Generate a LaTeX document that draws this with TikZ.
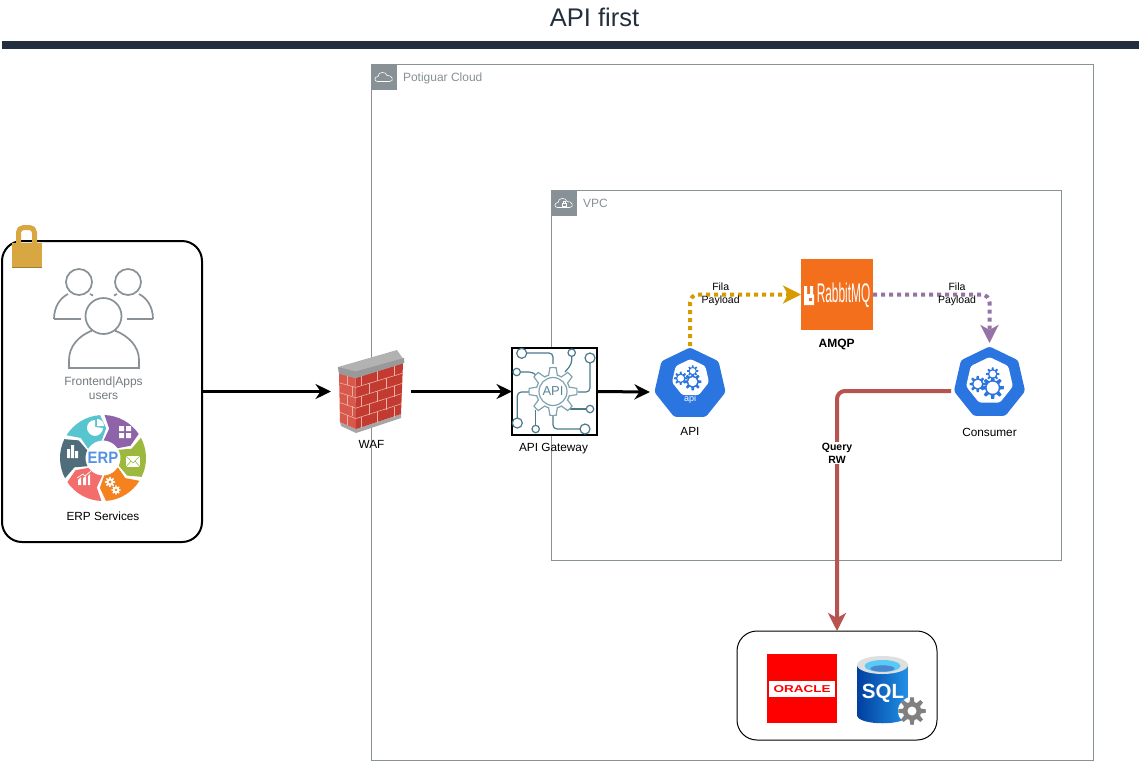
\documentclass[tikz,border=0pt]{standalone}
\usepackage{fontspec}
\setmainfont{Liberation Sans}
\usetikzlibrary{arrows.meta,calc}
\definecolor{navy}{HTML}{232F3E}
\definecolor{awsgray}{HTML}{879196}
\definecolor{kblue}{HTML}{2A75E0}
\definecolor{gold}{HTML}{D79B00}
\definecolor{plum}{HTML}{9673A6}
\definecolor{brick}{HTML}{B85450}
\definecolor{rabbit}{HTML}{F46F1C}
\definecolor{lockgold}{HTML}{D9A741}
\definecolor{apiteal}{HTML}{4A7A8C}
\definecolor{apilight}{HTML}{7FA3B0}
\definecolor{erpteal}{HTML}{56C5D0}
\definecolor{erppurple}{HTML}{8E63A9}
\definecolor{erpgreen}{HTML}{9CB93D}
\definecolor{erporange}{HTML}{F5821F}
\definecolor{erpsalmon}{HTML}{F26D6B}
\definecolor{erpslate}{HTML}{4F6D7A}
\definecolor{wallright}{HTML}{C23A30}
\definecolor{wallleft}{HTML}{D9584C}
\definecolor{mortar}{HTML}{E8B0A8}
\newcommand\txt[1]{\fontsize{#1}{#1}\selectfont}
% gear: x,y,r,colour,hole colour,hole radius
\newcommand\gearat[6]{%
  \fill[#4,shift={(#1,#2)}] plot[domain=0:360,samples=49] (\x:{#3*(0.85+0.17*sign(cos(8*\x)))}) -- cycle;
  \fill[#5] (#1,#2) circle (#6pt);}
% heptagon: x,y,r,colour
\newcommand\heptat[4]{%
  \fill[#4,rounded corners=2.5pt,shift={(#1,#2)}] (-90:#3)--(-38.57:#3)--(12.86:#3)--(64.29:#3)--(115.71:#3)--(167.14:#3)--(218.57:#3)--cycle;}
% ERP segment: start angle, colour
\newcommand\erpseg[2]{%
  \fill[#2] plot[domain=#1:{#1+54},samples=9] (\x:43) -- ({#1+64}:30) -- plot[domain={#1+54}:#1,samples=9] (\x:17.5) -- ({#1+10}:30) -- cycle;}
% cloud outline at x,y
\newcommand\cloudat[2]{%
  \draw[white,line width=0.6pt,shift={(#1,#2)}] (-6.5,4) .. controls (-10,4) and (-10,-1) .. (-6,-1) .. controls (-6,-6) and (2,-6.5) .. (3,-2) .. controls (8,-3) and (11,4) .. (5.5,4) -- cycle;}
\tikzset{
  x=1pt,y=-1pt,
  anchorbox/.style={inner sep=0pt,outer sep=0pt,draw=none},
  lbl/.style={inner sep=0pt,outer sep=0pt,align=center,text=black,font=\txt{11.8}},
  grouplbl/.style={inner sep=0pt,outer sep=0pt,anchor=west,text=awsgray,font=\txt{12}},
  linklbl/.style={inner sep=0pt,outer sep=0pt,align=center,text=black,font=\fontsize{10.5}{13}\selectfont},
  flow/.style={line width=3pt,draw=black,-{Stealth[length=15.5pt,width=15pt,inset=5pt]}},
  bigflow/.style={line width=4pt,rounded corners=8pt,-{Stealth[length=18pt,width=18pt,inset=5pt]}},
  dots/.style={dash pattern=on 4pt off 4pt},
  groupbox/.style={draw=awsgray,line width=1pt,fill=none},
  iconsq/.style={fill=awsgray},
  userline/.style={draw=awsgray,line width=1.7pt},
  gwline/.style={draw=apiteal,line width=1.2pt,rounded corners=4pt},
  gwdot/.style={draw=apiteal,line width=1.2pt,fill=white},
}
\begin{document}
\begin{tikzpicture}
\useasboundingbox (0,0) rectangle (1140,761);
\fill[white] (0,0) rectangle (1140,761);

% title
\node[inner sep=0pt,text=navy,font=\txt{25.5}] (title) at (594.5,17) {API first};
\fill[navy] (2,41) rectangle (1139,49);

% groups
\draw[groupbox] (371.5,64.5) rectangle (1093,760.5);
\fill[iconsq] (371.5,64.5) rectangle (396.5,89.5);
\cloudat{384}{77.5}
\node[grouplbl] (cloudlbl) at (403,78) {Potiguar Cloud};
\draw[groupbox] (551.5,190.5) rectangle (1061,560);
\fill[iconsq] (551.5,190.5) rectangle (576.5,215.5);
\cloudat{564}{203.5}
\draw[white,line width=0.6pt] (562,203) rectangle (566,206.5);
\draw[white,line width=0.6pt] (562.8,203) -- (562.8,201.5) -- (565.2,201.5) -- (565.2,203);
\node[grouplbl] (vpclbl) at (583,203) {VPC};

% left box
\node[draw=black,line width=2pt,fill=white,rounded corners=20pt,minimum width=200pt,minimum height=301pt,inner sep=0pt,outer sep=0pt] (clients) at (102,391.5) {};

% lock
\draw[lockgold,line width=5pt,rounded corners=5pt] (18.5,245) -- (18.5,227.5) -- (34.5,227.5) -- (34.5,245);
\fill[lockgold] (11.5,243) rectangle (41.5,268);
\fill[lockgold!75!black] (11.5,266.5) rectangle (41.5,268);

% users
\draw[userline] (54,319) -- (81,319);
\draw[userline] (54,319) .. controls (54,307) and (60,298) .. (68,294);
\draw[userline] (90,294) -- (93,295.5);
\draw[userline] (127,319) -- (153,319);
\draw[userline] (153,319) .. controls (153,307) and (147,298) .. (139,294);
\draw[userline] (117,294) -- (114,295.5);
\draw[userline] (79,282) circle (13pt);
\draw[userline] (128,282) circle (13pt);
\draw[userline] (69,368) -- (139,368) -- (139,360) .. controls (139,346) and (128,336) .. (116,331) -- (91,331) .. controls (79,336) and (69,346) .. (69,360) -- cycle;
\fill[white] (92,329.5) rectangle (115,333);
\draw[userline] (103.5,316) circle (18pt);
\node[lbl,text=awsgray!85!black,font=\fontsize{12}{14}\selectfont] (userslbl) at (103.5,388.5) {Frontend|Apps\\users};

% ERP wheel
\begin{scope}[shift={(103,458)}]
\erpseg{-148}{erpteal}
\erpseg{-88}{erppurple}
\erpseg{-28}{erpgreen}
\erpseg{32}{erporange}
\erpseg{92}{erpsalmon}
\erpseg{152}{erpslate}
\end{scope}
\node[inner sep=0pt,text=kblue!80!white,font=\bfseries\txt{16.5},xscale=0.9] (erptext) at (103,457.5) {ERP};
% pie
\fill[white] (95,427) -- (95,420) .. controls (90,420) and (87,424) .. (87,428) .. controls (87,432) and (91,436) .. (95,436) .. controls (99,436) and (103,432) .. (103,428) -- cycle;
\fill[white] (97,419) -- (97,426) -- (104,426) .. controls (104,422) and (101,419) .. (97,419) -- cycle;
% calculator
\fill[white] (119,426) rectangle (124,431) (126,426) rectangle (131,431) (119,433) rectangle (124,438) (126,433) rectangle (131,438);
% envelope
\fill[white] (126,456) rectangle (140,467);
\draw[erpgreen,line width=0.6pt] (126,456) -- (133,463) -- (140,456) (126,467) -- (131,461) (140,467) -- (135,461);
% gears
\gearat{110}{482}{5}{white}{erporange}{1.6}
\gearat{116}{490}{4.5}{white}{erporange}{1.4}
% chart
\fill[white] (78,485) -- (78,480) -- (81,477) -- (81,485) -- cycle (83,485) -- (83,478) -- (86,476) -- (86,485) -- cycle (88,485) -- (88,476) -- (90,474) -- (90,485) -- cycle;
\draw[white,line width=0.7pt] (77,478) -- (83,474) -- (85,476) -- (91,471);
% bars
\fill[white] (67,449) rectangle (70,458) (71,445) rectangle (74,458) (75,451) rectangle (78,458);
\node[lbl] (erplbl) at (103,516) {ERP Services};

% WAF
\fill[gray!70] (340,422) -- (356,429) -- (401,414) -- (401,418) -- (356,433) -- (341,426) -- cycle;
\fill[wallleft] (339,373) -- (355.5,377) -- (356,429) -- (340,422) -- cycle;
\fill[wallright] (355.5,377) -- (403,363) -- (401,414) -- (356,429) -- cycle;
\foreach \f in {0.2,0.4,0.6,0.8}{
  \draw[mortar,line width=0.6pt] ({339+\f},{373+49*\f}) -- (355.7,{377+52*\f}) -- ({403-2*\f},{363+51*\f});
}
\foreach \f/\g in {0/0.2,0.4/0.6,0.8/1}{
  \draw[mortar,line width=0.6pt] (361,{375.5+52*\f}) -- (361,{375.5+52*\g});
  \draw[mortar,line width=0.6pt] (377,{370.5+52*\f}) -- (377,{370.5+52*\g});
  \draw[mortar,line width=0.6pt] (394,{365.5+52*\f}) -- (394,{365.5+52*\g});
  \draw[mortar,line width=0.6pt] (347,{375+50*\f}) -- (347,{375+50*\g});
}
\foreach \f/\g in {0.2/0.4,0.6/0.8}{
  \draw[mortar,line width=0.6pt] (369,{373+52*\f}) -- (369,{373+52*\g});
  \draw[mortar,line width=0.6pt] (386,{368+52*\f}) -- (386,{368+52*\g});
  \draw[mortar,line width=0.6pt] (352,{376+50*\f}) -- (352,{376+50*\g});
}
\fill[gray!60] (338,367) -- (397,350) -- (404,360) -- (404,363) -- (355.5,378) -- (339,373.5) -- cycle;
\fill[gray!80] (338,367) -- (355.5,371.5) -- (404,358) -- (404,363) -- (355.5,378) -- (339,373.5) -- cycle;
\node[anchorbox,minimum width=80pt,minimum height=84pt] (waf) at (371,391.5) {};
\node[lbl] (waflbl) at (371.5,444.5) {WAF};

% API gateway
\node[draw=black,line width=1.2pt,fill=white,minimum width=85pt,minimum height=87pt,inner sep=0pt,outer sep=0pt] (gateway) at (554.5,391.5) {};
\draw[gwline] (526.5,353) -- (553,353) -- (553,364);
\draw[gwline] (571.7,356.5) -- (571.7,364) -- (565,372);
\draw[gwline] (590,363) -- (590,392) -- (578,392);
\draw[gwline] (520.5,372) -- (533,372) -- (539,378);
\draw[gwline] (517.3,418) -- (517.3,392) -- (529,392);
\draw[gwline] (535.7,425) -- (535.7,410);
\draw[gwline] (580,429) -- (553,429) -- (553,416);
\draw[gwline] (586,409) -- (570,409);
\draw[gwdot] (521.7,353.3) circle (5pt);
\draw[gwdot] (571.7,352.7) circle (3.7pt);
\draw[gwdot] (590,358) circle (5pt);
\draw[gwdot] (516.7,372) circle (3.7pt);
\draw[gwdot] (517.3,423) circle (5pt);
\draw[gwdot] (535.7,429) circle (3.7pt);
\draw[gwdot] (585,429) circle (5pt);
\draw[gwdot] (590,409) circle (3.7pt);
\draw[draw=apilight,line width=1.2pt,fill=white,shift={(553,391.5)}] plot[domain=0:360,samples=49] (\x:{24*(0.85+0.15*sign(cos(8*\x)))}) -- cycle;
\draw[apilight,line width=1.2pt] (553,391.5) circle (14pt);
\node[inner sep=0pt,text=apiteal!70!apilight,font=\txt{13}] (apiword) at (553,391.5) {API};
\node[lbl] (gwlbl) at (553.5,449) {API Gateway};

% API service
\heptat{690}{384}{36.5}{kblue}
\heptat{690.5}{378}{19}{white}
\gearat{692.7}{381.7}{8.5}{kblue}{white}{4.5}
\gearat{680.7}{378.3}{6.5}{kblue}{white}{3.4}
\gearat{692.7}{371}{5.5}{kblue}{white}{2.9}
\node[inner sep=0pt,text=white,font=\txt{9}] (apiword2) at (690,399) {api};
\node[anchorbox,minimum width=80pt,minimum height=92pt] (api) at (690,392) {};
\node[lbl] (apilbl) at (690,431) {API};

% RabbitMQ
\node[fill=rabbit,minimum width=72pt,minimum height=71pt,inner sep=0pt,outer sep=0pt] (amqp) at (837,294.5) {};
\fill[white] (804,305) -- (804,286) -- (807,286) -- (807,294) -- (810,294) -- (810,286) -- (813,286) -- (813,294) -- (814,295) -- (814,305) -- cycle;
\fill[rabbit] (809,298) rectangle (812,301);
\node[inner sep=0pt,text=white,font=\txt{27},xscale=0.44] (rabbitword) at (843.5,295) {RabbitMQ};
\node[lbl,font=\bfseries\txt{12}] (amqplbl) at (836.7,344) {AMQP};

% Consumer
\heptat{989.5}{383}{36.5}{kblue}
\heptat{989.5}{381}{24}{white}
\gearat{992.7}{387.7}{11}{kblue}{white}{6}
\gearat{977.7}{384}{8}{kblue}{white}{4.2}
\gearat{992.7}{374}{6.5}{kblue}{white}{3.4}
\node[anchorbox,minimum width=77pt,minimum height=96pt] (consumer) at (989.5,391) {};
\node[lbl] (conslbl) at (989.5,432) {Consumer};

% database box
\node[draw=black,line width=1pt,fill=white,rounded corners=20pt,minimum width=200pt,minimum height=109pt,inner sep=0pt,outer sep=0pt] (db) at (837,685.5) {};
\fill[red] (767,654) rectangle (837,723);
\fill[white] (769,681) rectangle (835,697);
\node[inner sep=0pt,text=red,font=\bfseries\txt{10},xscale=1.35] (oracle) at (802,689) {ORACLE};
\shade[left color=blue!50!black!75!cyan,right color=kblue!80!cyan] (857,665) -- (857,715) .. controls (857,726) and (908,726) .. (908,715) -- (908,665) -- cycle;
\fill[gray!25] (882.5,665) ellipse (25.5pt and 9pt);
\fill[cyan!65!white] (882.5,666) ellipse (18pt and 6pt);
\fill[cyan!50!blue!75!white] (882.5,668.5) ellipse (12pt and 3.2pt);
\node[inner sep=0pt,text=white,font=\bfseries\txt{20.5}] (sql) at (883,693) {SQL};
\fill[white] (912,711) circle (14pt);
\gearat{912}{711}{13.5}{gray}{white}{4.5}

% connectors
\draw[flow] (clients.east) -- (waf.west);
\draw[flow] (waf.east) -- (gateway.west);
\draw[flow] (gateway.east) -- (api.west);
\draw[bigflow,draw=gold,fill=none,dots] (api.north) |- (amqp.west);
\draw[bigflow,draw=plum,fill=none,dots] (amqp.east) -| (consumer.north);
\draw[bigflow,draw=brick,fill=none] (consumer.west) -| (db.north);

% connector labels
\node[linklbl] (fila1) at (720.7,294.5) {Fila\\Payload};
\node[linklbl] (fila2) at (957,294.5) {Fila\\Payload};
\node[linklbl,fill=white,font=\bfseries\fontsize{10.5}{13}\selectfont,inner sep=1pt] (query) at (837,453) {Query\\RW};
\end{tikzpicture}
\end{document}
